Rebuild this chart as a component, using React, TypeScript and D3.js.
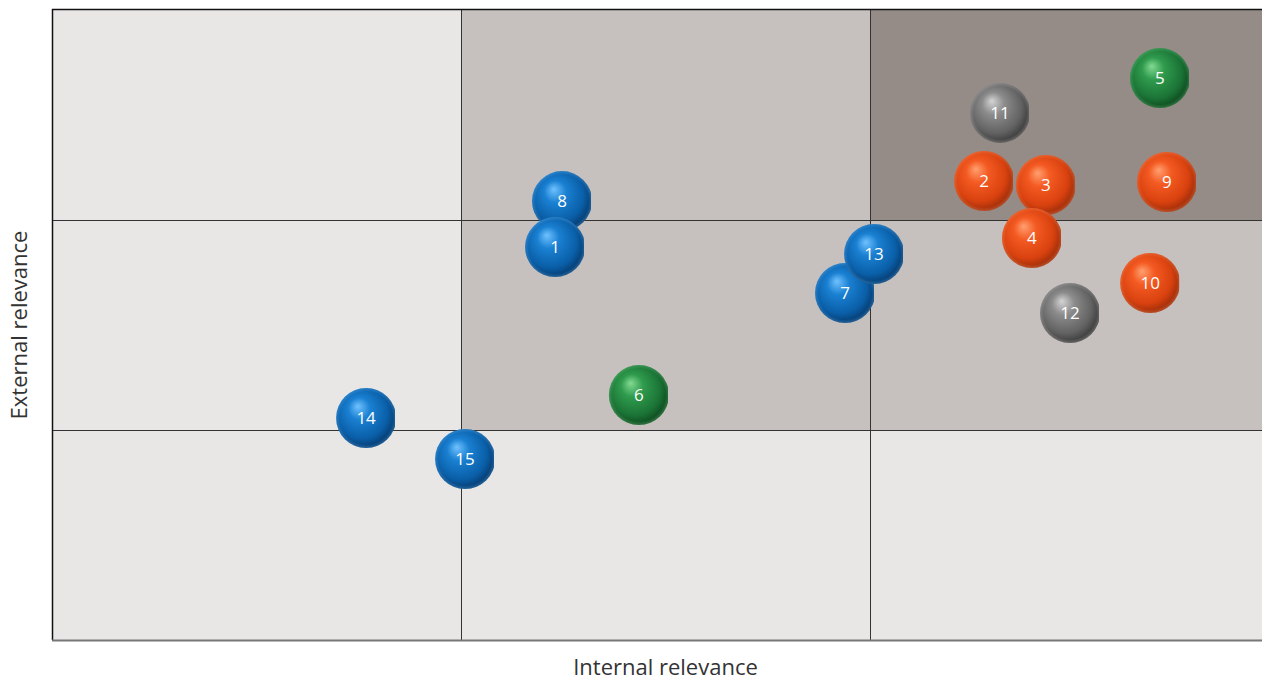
import React from "react";
import * as d3 from "d3";

const ids = [1, 2, 3, 4, 5, 6, 7, 8, 9, 10, 11, 12, 13, 14, 15];
const internalValues = [1.23, 2.279, 2.43, 2.396, 2.709, 1.435, 1.939, 1.247, 2.726, 2.685, 2.318, 2.489, 2.01, 0.768, 1.01];
const externalValues = [1.871, 2.186, 2.167, 1.914, 2.676, 1.167, 1.652, 2.09, 2.181, 1.7, 2.51, 1.557, 1.838, 1.057, 0.862];
const groups = ["blue", "red", "red", "red", "green", "green", "blue", "blue", "red", "red", "gray", "gray", "blue", "blue", "blue"];
const drawOrder = [14, 15, 6, 8, 1, 7, 13, 11, 5, 2, 3, 9, 4, 10, 12];

const zoneLevels = [0, 1, 2, 3];
// zone shade per [row (y level from bottom), col]
const zoneShade = [
  ["light", "light", "light"],
  ["light", "mid", "mid"],
  ["light", "mid", "dark"],
];

const xTitle = "Internal relevance";
const yTitle = "External relevance";

const shadeColors: Record<string, string> = { light: "#e9e7e6", mid: "#c6c1be", dark: "#958c87" };
const palette: Record<string, [string, string, string, string]> = {
  blue: ["#70c2ff", "#1a80d2", "#0a5fa8", "#042c58"],
  red: ["#ffa070", "#f45a22", "#d9420f", "#852407"],
  green: ["#82da92", "#2f9b4d", "#1b7436", "#093816"],
  gray: ["#d4d4d4", "#8c8c8c", "#626262", "#2a2a2a"],
};

export default function App() {
  const W = 1262, H = 680;
  const left = 52, top = 10, bottom = 640;
  const cell = 409;
  const x = d3.scaleLinear().domain([0, 3]).range([left, left + cell * 3]);
  const y = d3.scaleLinear().domain([0, 3]).range([bottom, top]);
  const r = 30;
  const font = "'Open Sans', 'Noto Sans', sans-serif";

  return (
    <svg width={W} height={H} style={{ position: "absolute", left: 0, top: 0, display: "block" }}>
      <defs>
        {Object.keys(palette).map((k) => (
          <radialGradient key={k} id={`g-${k}`} cx="0.45" cy="0.45" r="0.62" fx="0.36" fy="0.3">
            <stop offset="0" stopColor={palette[k][0]} />
            <stop offset="0.3" stopColor={palette[k][1]} />
            <stop offset="0.7" stopColor={palette[k][2]} />
            <stop offset="1" stopColor={palette[k][3]} />
          </radialGradient>
        ))}
        {Object.keys(palette).map((k) => (
          <radialGradient key={"rim" + k} id={`rim-${k}`} cx="0.5" cy="0.5" r="0.5" fx="0.5" fy="0.5">
            <stop offset="0.88" stopColor={palette[k][0]} stopOpacity={0} />
            <stop offset="1" stopColor={palette[k][0]} stopOpacity={0.3} />
          </radialGradient>
        ))}
      </defs>
      {zoneShade.map((row, ri) =>
        row.map((s, ci) => (
          <rect
            key={`z${ri}-${ci}`}
            x={x(zoneLevels[ci])}
            y={y(zoneLevels[ri + 1])}
            width={x(zoneLevels[ci + 1]) - x(zoneLevels[ci])}
            height={y(zoneLevels[ri]) - y(zoneLevels[ri + 1])}
            fill={shadeColors[s]}
          />
        ))
      )}
      {[1, 2].map((v) => (
        <line key={"vx" + v} x1={x(v) + 0.5} x2={x(v) + 0.5} y1={y(3)} y2={y(0)} stroke="#333" strokeWidth={1} />
      ))}
      {[1, 2].map((v) => (
        <line key={"hy" + v} x1={x(0)} x2={x(3)} y1={y(v) + 0.5} y2={y(v) + 0.5} stroke="#333" strokeWidth={1} />
      ))}
      <line x1={x(0)} x2={x(3)} y1={y(3) - 0.5} y2={y(3) - 0.5} stroke="#111" strokeWidth={1.5} />
      <line x1={x(0) + 0.5} x2={x(0) + 0.5} y1={y(3) - 1} y2={y(0)} stroke="#111" strokeWidth={1.5} />
      <line x1={x(0)} x2={x(3)} y1={y(0) + 0.5} y2={y(0) + 0.5} stroke="#777" strokeWidth={2} />
      {drawOrder.map((id) => {
        const i = ids.indexOf(id);
        const cx = x(internalValues[i]);
        const cy = y(externalValues[i]);
        const g = groups[i];
        return (
          <g key={id}>
            <clipPath id={`c${id}`}>
              <rect x={cx - r - 2} y={cy - r - 2} width={2 * r + 1} height={2 * r + 4} />
            </clipPath>
            <g clipPath={`url(#c${id})`}>
              <circle cx={cx} cy={cy} r={r} fill={`url(#g-${g})`} />
              <circle cx={cx} cy={cy} r={r} fill={`url(#rim-${g})`} />
            </g>
            <text
              x={cx}
              y={cy}
              dy="0.36em"
              textAnchor="middle"
              fill="#fff"
              fontSize={17}
              fontFamily={font}
            >
              {id}
            </text>
          </g>
        );
      })}
      <text x={(x(0) + x(3)) / 2} y={675} textAnchor="middle" fontSize={22} fill="#333" fontFamily={font}>
        {xTitle}
      </text>
      <text
        transform={`translate(27, ${(top + bottom) / 2}) rotate(-90)`}
        textAnchor="middle"
        fontSize={22}
        fill="#333"
        fontFamily={font}
      >
        {yTitle}
      </text>
    </svg>
  );
}
